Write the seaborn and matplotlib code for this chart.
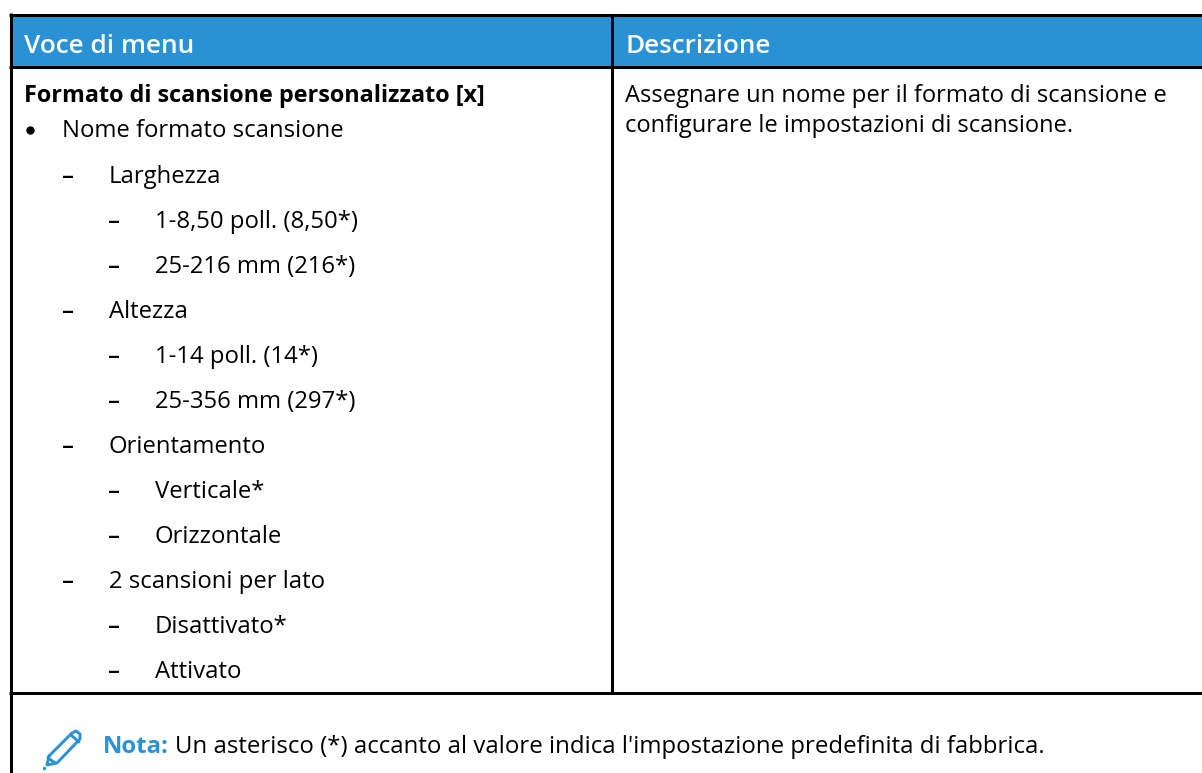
import matplotlib
matplotlib.use("Agg")
import matplotlib.pyplot as plt
import seaborn as sns

sns.set_theme(style="white")
plt.rcParams['font.family'] = ['Open Sans', 'DejaVu Sans']

header_labels = ["Voce di menu", "Descrizione"]
row_title = "Formato di scansione personalizzato [x]"
level1 = ["Nome formato scansione"]
level2_items = [
    ("Larghezza", 2), ("1-8,50 poll. (8,50*)", 3), ("25-216 mm (216*)", 3),
    ("Altezza", 2), ("1-14 poll. (14*)", 3), ("25-356 mm (297*)", 3),
    ("Orientamento", 2), ("Verticale*", 3), ("Orizzontale", 3),
    ("2 scansioni per lato", 2), ("Disattivato*", 3), ("Attivato", 3),
]
description = ["Assegnare un nome per il formato di scansione e",
               "configurare le impostazioni di scansione."]
note_label = "Nota:"
note_text = "Un asterisco (*) accanto al valore indica l'impostazione predefinita di fabbrica."

BLUE = "#2a91d5"
W, H = 1202, 773
fig = plt.figure(figsize=(W / 100, H / 100), dpi=100, facecolor="white")
ax = fig.add_axes([0, 0, 1, 1])
ax.set_xlim(0, W)
ax.set_ylim(H, 0)
ax.axis("off")

FS = 17.2
ax.fill_between([10, W], 14, 67, color=BLUE, lw=0, zorder=1)
lw = 3 * 0.72
for xs, ys in [([9.2, W], [14.5, 14.5]), ([9.2, W], [66.7, 66.7]), ([9.2, W], [692.5, 692.5]),
               ([10.7, 10.7], [13, H]), ([611.7, 611.7], [14, 692])]:
    ax.plot(xs, ys, color="black", lw=lw, solid_capstyle="butt", zorder=3)

ax.text(24, 53, header_labels[0], color="white", fontsize=18.9, fontweight="semibold", zorder=4)
ax.text(626, 53, header_labels[1], color="white", fontsize=18.75, fontweight="semibold", zorder=4)
ax.text(24, 102, row_title, color="black", fontsize=16.8, fontweight="bold")
ax.plot([30], [130], "o", color="black", ms=6, mew=0)
ax.text(62, 137, level1[0], color="black", fontsize=FS)
y0, step = 183, 45
for i, (t, lev) in enumerate(level2_items):
    y = y0 + i * step
    xd, xt = (62, 109) if lev == 2 else (108, 155)
    ax.text(xd, y, "–", color="black", fontsize=FS, fontweight="semibold")
    ax.text(xt, y, t, color="black", fontsize=FS)
ax.text(625, 102, description[0], color="black", fontsize=17.1)
ax.text(625, 132, description[1], color="black", fontsize=17.05)
ax.text(103, 753, note_label, color=BLUE, fontsize=FS, fontweight="bold")
ax.text(175, 753, note_text, color="black", fontsize=17.25)

# pencil icon
ic = dict(color=BLUE, lw=2.1, solid_capstyle="round", solid_joinstyle="round")
ax.plot([49, 72, 76, 80, 80, 57, 47, 49], [756, 733, 731, 734, 739, 763, 765, 756], **ic)
ax.plot([71, 79], [735, 742], **ic)
ax.plot([48, 55], [758, 763], **ic)
ax.plot([43.5], [767.5], "o", color=BLUE, ms=2.5, mew=0)

fig.savefig("out.png", dpi=100)
